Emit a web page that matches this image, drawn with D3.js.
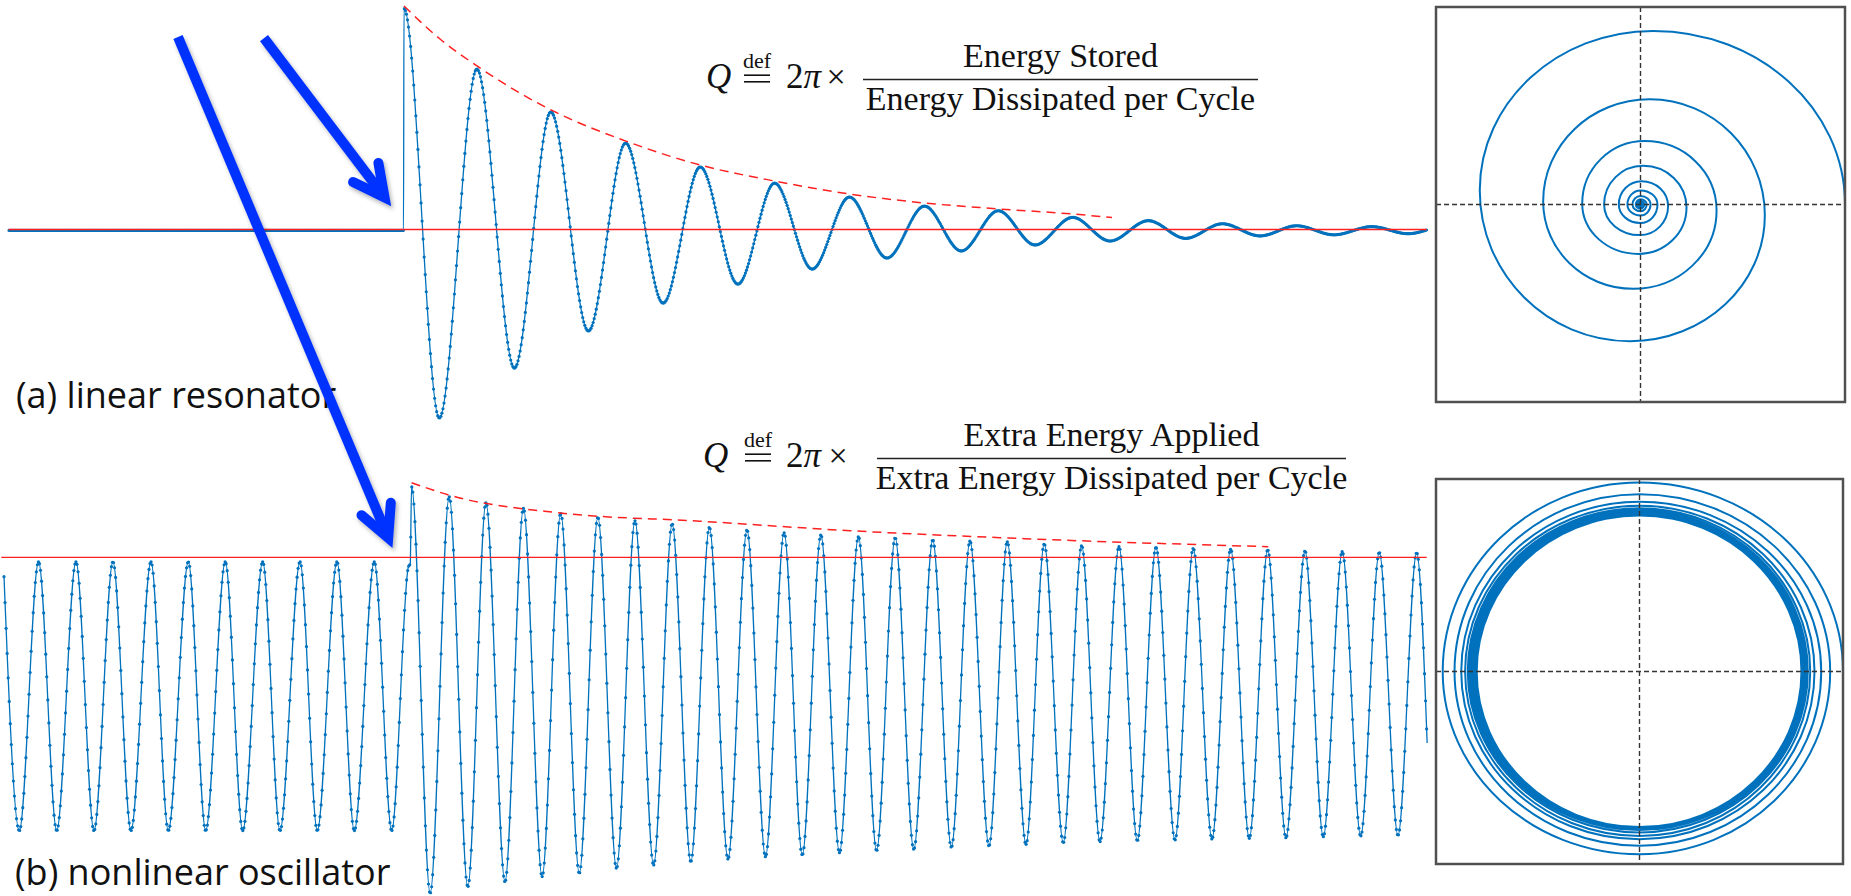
<!DOCTYPE html>
<html>
<head>
<meta charset="utf-8">
<script src="https://cdn.jsdelivr.net/npm/d3@7"></script>
<style>
  html, body { margin: 0; padding: 0; background: #fff; }
  svg { display: block; }
</style>
</head>
<body>
<svg id="chart" width="1851" height="896"></svg>
<script>
// Time t is measured in cycles of the (b) oscillator, t = 0 is the kick.
// Amplitudes are in each panel's own units.

// (a) linear resonator: flat, step, then damped ringing (extrema)
const resonatorWave = [
    [-10.79, -0.004], [-5.5, -0.004], [-0.201, -0.004],
    [-0.188, 1.0], [0.760, -0.853], [1.769, 0.726], [2.776, -0.627],
    [3.753, 0.532], [4.762, -0.459], [5.761, 0.391], [6.768, -0.333],
    [7.766, 0.283], [8.776, -0.247], [9.761, 0.210], [10.770, -0.179],
    [11.769, 0.147], [12.776, -0.129], [13.785, 0.106], [14.773, -0.097],
    [15.766, 0.085], [16.752, -0.070], [17.764, 0.055], [18.765, -0.052],
    [19.793, 0.040], [20.797, -0.040], [21.780, 0.026], [22.792, -0.029],
    [23.777, 0.017], [24.779, -0.024], [25.791, 0.013], [26.773, -0.019],
    [27.267, -0.002]
];
const resonatorEnvelope = [
    [-0.188, 1.011], [0.779, 0.862], [1.772, 0.740], [3.758, 0.541],
    [5.772, 0.400], [7.758, 0.292], [9.772, 0.219], [11.758, 0.161],
    [13.772, 0.120], [15.785, 0.093], [17.772, 0.070], [18.819, 0.054]
];
const resonatorBaseline = [[-10.8, 0], [27.27, 0]];

// (b) nonlinear oscillator: steady cycle, kick, slow return
const oscillatorWave = [
    [-10.926, 0.887], [-10.515, -1.001], [-9.998, 0.998], [-9.511, -1.001],
    [-8.994, 0.998], [-8.510, -1.001], [-8.001, 0.998], [-7.517, -1.001],
    [-6.980, 0.998], [-6.515, -1.001], [-5.978, 0.998], [-5.511, -1.001],
    [-4.985, 0.998], [-4.518, -1.001], [-3.981, 0.998], [-3.517, -1.001],
    [-2.980, 0.998], [-2.515, -1.001], [-1.987, 0.998], [-1.522, -1.001],
    [-0.985, 0.998], [-0.518, -1.001], [-0.07, 0.96], [-0.02, 0.985],
    [0.016, 1.556], [0.515, -1.467], [1.026, 1.482], [1.525, -1.418],
    [2.013, 1.437], [2.523, -1.381], [3.020, 1.396], [3.520, -1.343],
    [4.019, 1.358], [4.518, -1.318], [5.017, 1.329], [5.517, -1.281],
    [6.013, 1.303], [6.513, -1.257], [7.012, 1.279], [7.512, -1.232],
    [8.011, 1.254], [8.510, -1.212], [9.020, 1.234], [9.517, -1.195],
    [10.016, 1.214], [10.505, -1.182], [11.004, 1.197], [11.503, -1.165],
    [12.013, 1.184], [12.499, -1.150], [12.999, 1.177], [13.498, -1.140],
    [14.008, 1.160], [14.507, -1.125], [15.007, 1.152], [15.517, -1.115],
    [16.008, 1.147], [16.510, -1.103], [17.001, 1.130], [17.511, -1.091],
    [18.005, 1.117], [18.497, -1.083], [19.007, 1.110], [19.498, -1.076],
    [20.000, 1.106], [20.510, -1.071], [21.001, 1.098], [21.503, -1.063],
    [22.005, 1.091], [22.505, -1.058], [22.999, 1.086], [23.490, -1.054],
    [24.000, 1.078], [24.491, -1.046], [25.001, 1.073], [25.495, -1.041],
    [25.995, 1.068], [26.497, -1.036], [26.998, 1.065], [27.28, -0.35]
];
const oscillatorEnvelope = [
    [0.016, 1.586], [1.020, 1.494], [4.0, 1.361], [7.758, 1.300],
    [11.785, 1.229], [15.812, 1.177], [23.015, 1.110]
];
const oscillatorBaseline = [[-11.0, 1.031], [27.27, 1.031]];

// phase portrait (a): extreme points of each quarter turn, right -> top -> left -> bottom
const spiralPoints = [
    [1.0, 0], [0.062, 0.879], [-0.786, 0.072], [-0.052, -0.692],
    [0.608, -0.054], [0.045, 0.533], [-0.476, 0.015], [-0.036, -0.427],
    [0.372, -0.03], [0.021, 0.321], [-0.285, 0.005], [-0.011, -0.250],
    [0.225, -0.015], [0.013, 0.196], [-0.178, 0], [-0.003, -0.155],
    [0.135, -0.008], [0.005, 0.118], [-0.106, 0], [0, -0.094],
    [0.083, 0], [0, 0.071], [-0.064, 0], [0, -0.056],
    [0.049, 0], [0, 0.043], [-0.039, 0], [0, -0.034],
    [0.030, 0], [0, 0.026], [-0.023, 0], [0, -0.021],
    [0.018, 0], [0, 0.016], [-0.014, 0], [0, -0.012],
    [0.011, 0], [0, 0.009], [-0.008, 0], [0, -0.007],
    [0.006, 0], [0, 0.005], [-0.004, 0], [0, -0.004], [0.003, 0]
];

// phase portrait (b): radii of each turn at right / top / left / bottom
const ringRight  = [1.0, 0.937, 0.893, 0.860, 0.839, 0.827, 0.819, 0.813, 0.809, 0.806, 0.804, 0.802, 0.801, 0.800, 0.799, 0.798, 0.797, 0.797, 0.796, 0.796];
const ringTop    = [0.982, 0.921, 0.882, 0.861, 0.848, 0.838, 0.831, 0.826, 0.822, 0.819, 0.817, 0.815, 0.814, 0.813, 0.812, 0.811, 0.811, 0.810, 0.810, 0.810];
const ringLeft   = [0.967, 0.909, 0.876, 0.857, 0.844, 0.835, 0.827, 0.821, 0.817, 0.813, 0.810, 0.808, 0.806, 0.805, 0.804, 0.803, 0.802, 0.801, 0.801, 0.800];
const ringBottom = [0.949, 0.905, 0.871, 0.854, 0.836, 0.824, 0.821, 0.818, 0.816, 0.814, 0.813, 0.812, 0.811, 0.810, 0.810, 0.809, 0.809, 0.808, 0.808, 0.808];

// annotation arrows: [panel, t, amplitude]
const arrows = [
    { from: ['top', -3.946, 0.866], to: ['top', -0.564, 0.113] },
    { from: ['top', -6.255, 0.871], to: ['bottom', -0.518, 1.115] }
];

const labels = ['(a) linear resonator', '(b) nonlinear oscillator'];
const formulas = [
    { num: 'Energy Stored', den: 'Energy Dissipated per Cycle' },
    { num: 'Extra Energy Applied', den: 'Extra Energy Dissipated per Cycle' }
];

const BLUE = '#0072bd';
const RED = '#ff2020';
const ARROW = '#0433ff';
const SERIF = '"Liberation Serif", "DejaVu Serif", serif';
const SANS = '"Open Sans", "Noto Sans", sans-serif';
const SAMPLE_DT = 0.028;

const svg = d3.select('#chart');

// Scales
const x = d3.scaleLinear().domain([-11, 27.3]).range([1.25, 1427.9]);
const yTop = d3.scaleLinear().domain([-1, 1]).range([450.5, 8.5]);
const yBot = d3.scaleLinear().domain([-1, 1]).range([830.5, 561.5]);
const phaseA = {
    x: d3.scaleLinear().domain([-1, 1]).range([1436, 1845]),
    y: d3.scaleLinear().domain([-1, 1]).range([402, 7])
};
const phaseB = {
    x: d3.scaleLinear().domain([-1, 1]).range([1436, 1843]),
    y: d3.scaleLinear().domain([-1, 1]).range([864, 479])
};

// Drop shadow for the arrows
const defs = svg.append('defs');
defs.append('filter')
    .attr('id', 'shadow')
    .attr('x', '-20%').attr('y', '-20%')
    .attr('width', '140%').attr('height', '140%')
    .append('feDropShadow')
    .attr('dx', 2).attr('dy', 3)
    .attr('stdDeviation', 2)
    .attr('flood-color', '#000')
    .attr('flood-opacity', 0.3);

// Record the bezier segments the line generator emits
function recordSegments(lineGen, data) {
    const segs = [];
    let cur = null;
    const ctx = {
        moveTo(px, py) { cur = [px, py]; },
        lineTo(px, py) {
            segs.push([cur, [cur[0] + (px - cur[0]) / 3, cur[1] + (py - cur[1]) / 3],
                [cur[0] + 2 * (px - cur[0]) / 3, cur[1] + 2 * (py - cur[1]) / 3], [px, py]]);
            cur = [px, py];
        },
        bezierCurveTo(ax, ay, bx, by, px, py) {
            segs.push([cur, [ax, ay], [bx, by], [px, py]]);
            cur = [px, py];
        },
        closePath() {}
    };
    lineGen.context(ctx)(data);
    lineGen.context(null);
    return segs;
}

// Sample markers at even x spacing on the drawn monotone curve
// (curveMonotoneX puts the control points at thirds in x, so x is linear in u)
function sampleByX(segs, step) {
    const out = [];
    let i = 0;
    const xEnd = segs[segs.length - 1][3][0];
    for (let X = segs[0][0][0]; X <= xEnd; X += step) {
        while (i < segs.length - 1 && X > segs[i][3][0]) i++;
        const [p0, p1, p2, p3] = segs[i];
        const dx = p3[0] - p0[0];
        const u = dx > 0 ? Math.min(1, Math.max(0, (X - p0[0]) / dx)) : 1;
        const v = 1 - u;
        const yv = v * v * v * p0[1] + 3 * v * v * u * p1[1] + 3 * v * u * u * p2[1] + u * u * u * p3[1];
        out.push([X, yv]);
    }
    return out;
}

function drawWave(data, ys) {
    const g = svg.append('g');
    const line = d3.line().x(d => x(d[0])).y(d => ys(d[1])).curve(d3.curveMonotoneX);
    g.append('path')
        .datum(data)
        .attr('d', line)
        .attr('fill', 'none')
        .attr('stroke', BLUE)
        .attr('stroke-width', 1.3);
    const pts = sampleByX(recordSegments(line, data), x(SAMPLE_DT) - x(0));
    g.selectAll('circle')
        .data(pts)
        .join('circle')
        .attr('cx', d => d[0])
        .attr('cy', d => d[1])
        .attr('r', 1.6)
        .attr('fill', BLUE);
}

function drawBaseline(data, ys) {
    svg.append('path')
        .datum(data)
        .attr('d', d3.line().x(d => x(d[0])).y(d => ys(d[1])))
        .attr('stroke', RED)
        .attr('stroke-width', 1.4);
}

function drawEnvelope(data, ys) {
    svg.append('path')
        .datum(data)
        .attr('d', d3.line().x(d => x(d[0])).y(d => ys(d[1])).curve(d3.curveMonotoneX))
        .attr('fill', 'none')
        .attr('stroke', RED)
        .attr('stroke-width', 1.5)
        .attr('stroke-dasharray', '9,6');
}

drawWave(resonatorWave, yTop);
drawBaseline(resonatorBaseline, yTop);
drawEnvelope(resonatorEnvelope, yTop);

drawWave(oscillatorWave, yBot);
drawBaseline(oscillatorBaseline, yBot);
drawEnvelope(oscillatorEnvelope, yBot);

// Quarter-ellipse curve: tangents alternate vertical (x extremes) / horizontal (y extremes)
function curveQuadrant(context) {
    return {
        areaStart() {}, areaEnd() {},
        lineStart() { this._pts = []; },
        point(px, py) { this._pts.push([px, py]); },
        lineEnd() {
            const p = this._pts, k = 0.5523;
            if (!p.length) return;
            context.moveTo(p[0][0], p[0][1]);
            for (let i = 0; i < p.length - 1; i++) {
                const [x0, y0] = p[i], [x1, y1] = p[i + 1];
                if (i % 2 === 0) {
                    context.bezierCurveTo(x0, y0 + k * (y1 - y0), x1 + k * (x0 - x1), y1, x1, y1);
                } else {
                    context.bezierCurveTo(x0 + k * (x1 - x0), y0, x1, y1 + k * (y0 - y1), x1, y1);
                }
            }
        }
    };
}

function drawPhase(scales, points) {
    const [x0, x1] = scales.x.range();
    const [y1, y0] = scales.y.range();
    const g = svg.append('g');
    g.append('path')
        .datum(points)
        .attr('d', d3.line().x(d => scales.x(d[0])).y(d => scales.y(d[1])).curve(curveQuadrant))
        .attr('fill', 'none')
        .attr('stroke', BLUE)
        .attr('stroke-width', 2);
    // dashed axes through the origin
    g.append('line')
        .attr('x1', scales.x(0)).attr('x2', scales.x(0))
        .attr('y1', y0).attr('y2', y1)
        .attr('stroke', '#333').attr('stroke-width', 1.4)
        .attr('stroke-dasharray', '5,3');
    g.append('line')
        .attr('x1', x0).attr('x2', x1)
        .attr('y1', scales.y(0)).attr('y2', scales.y(0))
        .attr('stroke', '#333').attr('stroke-width', 1.4)
        .attr('stroke-dasharray', '5,3');
    g.append('rect')
        .attr('x', x0).attr('y', y0)
        .attr('width', x1 - x0).attr('height', y1 - y0)
        .attr('fill', 'none')
        .attr('stroke', '#505050')
        .attr('stroke-width', 2.5);
}

drawPhase(phaseA, spiralPoints);

const ringPoints = [];
ringRight.forEach((r, i) => {
    ringPoints.push([r, 0], [0, ringTop[i]], [-ringLeft[i], 0], [0, -ringBottom[i]]);
});
ringPoints.push([ringRight[ringRight.length - 1], 0]);
drawPhase(phaseB, ringPoints);

// Formulas
function drawFormula(f, lay) {
    const g = svg.append('g').attr('font-family', SERIF).attr('fill', '#111');
    const base = lay.barY + 8;
    g.append('text').attr('x', lay.qx).attr('y', base)
        .attr('font-size', 35).attr('font-style', 'italic').text('Q');
    // "=" drawn as two strokes so "def" can sit right on top of it
    [-4.3, 2.3].forEach(dy => {
        g.append('line')
            .attr('x1', lay.eqx - 13).attr('x2', lay.eqx + 13)
            .attr('y1', lay.barY + dy).attr('y2', lay.barY + dy)
            .attr('stroke', '#111').attr('stroke-width', 1.6);
    });
    g.append('text').attr('x', lay.eqx).attr('y', lay.barY - 12)
        .attr('font-size', 22).attr('text-anchor', 'middle').text('def');
    const t = g.append('text').attr('x', lay.pix).attr('y', base).attr('font-size', 35);
    t.append('tspan').text('2');
    t.append('tspan').attr('font-style', 'italic').text('π');
    g.append('text').attr('x', lay.timesx).attr('y', base)
        .attr('font-size', 34).attr('text-anchor', 'middle').text('×');
    g.append('line')
        .attr('x1', lay.bar[0]).attr('x2', lay.bar[1])
        .attr('y1', lay.barY).attr('y2', lay.barY)
        .attr('stroke', '#222').attr('stroke-width', 1.6);
    const cx = (lay.bar[0] + lay.bar[1]) / 2;
    g.append('text').attr('x', cx).attr('y', lay.barY - 13)
        .attr('font-size', 34).attr('text-anchor', 'middle').text(f.num);
    g.append('text').attr('x', cx).attr('y', lay.barY + 30)
        .attr('font-size', 34).attr('text-anchor', 'middle').text(f.den);
}

drawFormula(formulas[0], { qx: 706, eqx: 757, pix: 786, timesx: 836, bar: [863, 1258], barY: 79.5 });
drawFormula(formulas[1], { qx: 703, eqx: 758, pix: 786, timesx: 838, bar: [877, 1346], barY: 458.5 });

// Panel labels
svg.append('text')
    .attr('x', 16).attr('y', 408)
    .attr('font-family', SANS)
    .attr('font-size', 36).attr('fill', '#111')
    .text(labels[0]);
svg.append('text')
    .attr('x', 15).attr('y', 885)
    .attr('font-family', SANS)
    .attr('font-size', 36).attr('fill', '#111')
    .text(labels[1]);

// Arrows
function panelPoint(p) {
    const ys = p[0] === 'top' ? yTop : yBot;
    return [x(p[1]), ys(p[2])];
}

arrows.forEach(a => {
    const [sx, sy] = panelPoint(a.from);
    const [tx, ty] = panelPoint(a.to);
    const len = Math.hypot(tx - sx, ty - sy);
    const ux = (tx - sx) / len, uy = (ty - sy) / len;
    // pull the joint back so the mitred point lands on the tip
    const jx = tx - ux * 9, jy = ty - uy * 9;
    const back = Math.atan2(-uy, -ux);
    const spread = 27 * Math.PI / 180, barb = 35;
    const b1 = [jx + barb * Math.cos(back + spread), jy + barb * Math.sin(back + spread)];
    const b2 = [jx + barb * Math.cos(back - spread), jy + barb * Math.sin(back - spread)];
    const g = svg.append('g').attr('filter', 'url(#shadow)');
    g.append('line')
        .attr('x1', sx).attr('y1', sy).attr('x2', jx).attr('y2', jy)
        .attr('stroke', ARROW).attr('stroke-width', 10);
    g.append('path')
        .attr('d', `M${b1[0]},${b1[1]}L${jx},${jy}L${b2[0]},${b2[1]}`)
        .attr('fill', 'none')
        .attr('stroke', ARROW).attr('stroke-width', 10)
        .attr('stroke-linecap', 'round')
        .attr('stroke-linejoin', 'miter');
});
</script>
</body>
</html>
